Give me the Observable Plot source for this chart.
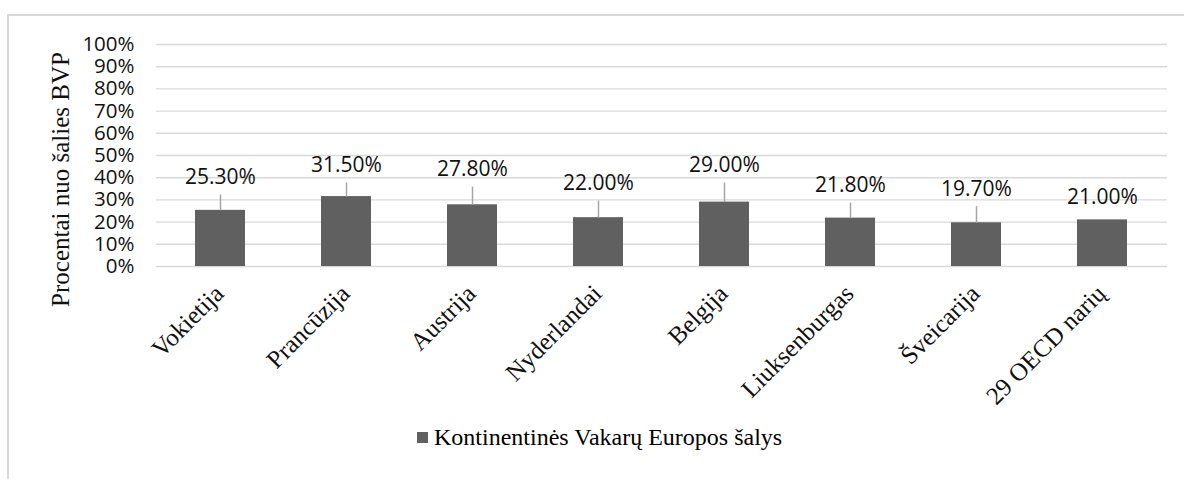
<!DOCTYPE html>
<html>
<head>
<meta charset="utf-8">
<script src="https://cdn.jsdelivr.net/npm/d3@7"></script>
<script src="https://cdn.jsdelivr.net/npm/@observablehq/plot@0.6"></script>
<style>
  html, body { margin: 0; padding: 0; background: #fff; width: 1184px; height: 479px; overflow: hidden; }
  #frame { position: absolute; left: 7px; top: 14px; width: 1200px; height: 500px;
           border-top: 2px solid #d9d9d9; border-left: 2px solid #d9d9d9; box-sizing: border-box; }
  #chart { position: absolute; left: 0; top: 0; }
  #legend { position: absolute; left: 417px; top: 424px; display: flex; align-items: center;
            font-family: "Liberation Serif", "Times New Roman", serif; font-size: 24px; color: #000; }
  #legend .sw { width: 11px; height: 11px; background: #606060; margin-right: 6px; }
</style>
</head>
<body>
<div id="frame"></div>
<div id="chart"></div>
<div id="legend"><div class="sw"></div><span id="legendText"></span></div>
<script>
// ---- data ----
const categories = ["Vokietija", "Prancūzija", "Austrija", "Nyderlandai", "Belgija", "Liuksenburgas", "Šveicarija", "29 OECD narių"];
const values = [0.253, 0.315, 0.278, 0.220, 0.290, 0.218, 0.197, 0.210];
const valueLabels = ["25.30%", "31.50%", "27.80%", "22.00%", "29.00%", "21.80%", "19.70%", "21.00%"];
const yTicks = [0, 0.1, 0.2, 0.3, 0.4, 0.5, 0.6, 0.7, 0.8, 0.9, 1.0];
const seriesName = "Kontinentinės Vakarų Europos šalys";
const yTitle = "Procentai nuo šalies BVP";

// label placement (in y units) as placed in the original chart
const labelAt = [0.401, 0.455, 0.437, 0.374, 0.455, 0.365, 0.349, 0.313];
const leaderGap = 0.077; // distance from label centre to start of leader line

const rows = categories.map((c, i) => ({cat: c, v: values[i], label: valueLabels[i], ly: labelAt[i]}));
const leaderRows = rows.filter(d => d.ly - leaderGap - d.v > 0.04);

document.getElementById("legendText").textContent = seriesName;

const serif = "'Liberation Serif', 'Times New Roman', serif";
const sans = "'Open Sans', sans-serif";

const chart = Plot.plot({
  width: 1184,
  height: 420,
  marginLeft: 156,
  marginRight: 17,
  marginTop: 44,
  marginBottom: 154,
  style: {background: "transparent", overflow: "visible"},
  x: {domain: categories, paddingInner: 0.6, paddingOuter: 0.3},
  y: {domain: [0, 1]},
  marks: [
    Plot.gridY(yTicks, {stroke: "#d9d9d9", strokeOpacity: 1, strokeWidth: 1.4}),
    Plot.axisY(yTicks, {
      tickFormat: d3.format(".0%"), tickSize: 0, tickPadding: 22,
      fontSize: 20.5, fontFamily: sans, fill: "#111", label: null
    }),
    Plot.axisX({
      tickRotate: -45, tickSize: 0, tickPadding: 23, dx: -1,
      fontSize: 25, fontFamily: serif, fill: "#111", label: null
    }),
    Plot.barY(rows, {x: "cat", y: "v", fill: "#606060"}),
    Plot.link(leaderRows, {x1: "cat", x2: "cat", y1: "v", y2: d => d.ly - leaderGap,
      stroke: "#a6a6a6", strokeWidth: 1.5}),
    Plot.text(rows, {x: "cat", y: "ly", text: "label", fontSize: 21, fontFamily: sans, fill: "#111"}),
    Plot.text([yTitle], {frameAnchor: "left", textAnchor: "middle", rotate: -90, dx: -96, dy: 24, fontSize: 25,
      fontFamily: serif, fill: "#111"})
  ]
});
document.getElementById("chart").appendChild(chart);
</script>
</body>
</html>
